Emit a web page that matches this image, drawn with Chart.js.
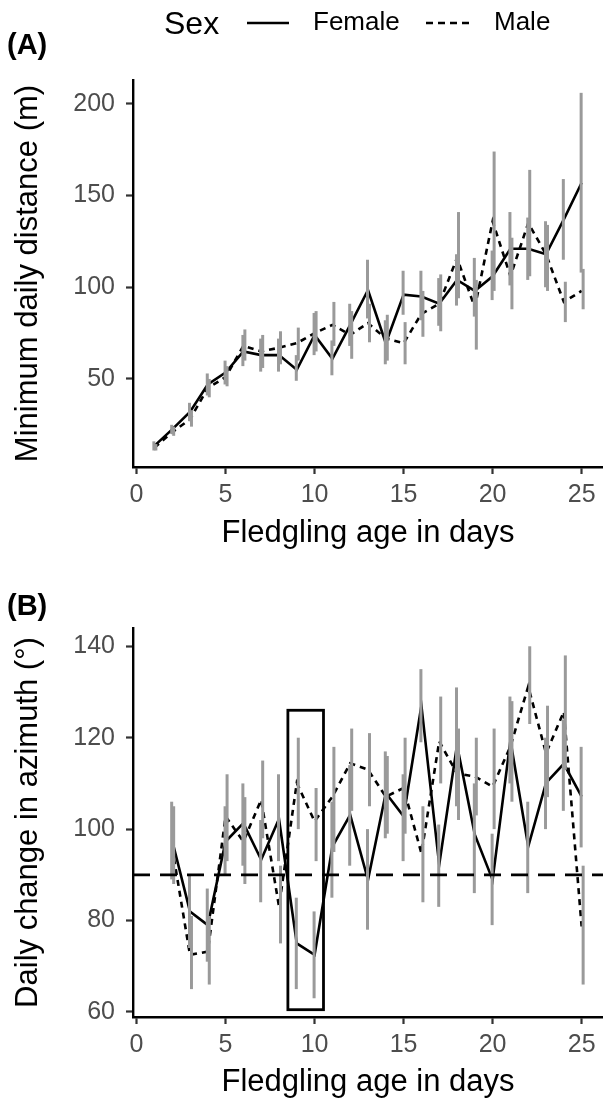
<!DOCTYPE html>
<html>
<head>
<meta charset="utf-8">
<script src="https://cdn.jsdelivr.net/npm/chart.js@4.4.1/dist/chart.umd.min.js"></script>
<style>
  html, body { margin: 0; padding: 0; background: #fff; }
  #wrap { position: relative; width: 603px; height: 1099px; }
  canvas { position: absolute; left: 0; }
</style>
</head>
<body>
<div id="wrap">
  <canvas id="chartA" width="603" height="560" style="top:0"></canvas>
  <canvas id="chartB" width="603" height="539" style="top:560px"></canvas>
</div>
<script>
// ---- panel A: minimum daily distance (m) ----
const ageA = [1, 2, 3, 4, 5, 6, 7, 8, 9, 10, 11, 12, 13, 14, 15, 16, 17, 18, 19, 20, 21, 22, 23, 24, 25];
const distFemale = [13.5, 22.5, 32, 47, 53.5, 65, 63, 63, 55, 74, 61, 79.5, 98.5, 69.5, 96, 95, 91, 104, 98, 106, 121, 121, 118, 137, 157];
const distMale = [12.5, 21, 28, 45, 51, 68, 65, 67, 69.5, 75, 79.5, 74, 80.5, 72, 69.5, 85.5, 91, 116, 89, 136, 106, 135, 118, 92, 98];
const distFemaleLow = [11, 20, 27, 41, 47, 57, 54, 54, 49, 63, 52, 68, 83, 58, 85, 82, 79, 90, 84, 93, 101, 104, 100, 115, 108];
const distFemaleHigh = [16, 25, 37, 53, 60, 74, 72, 72, 63, 86, 71, 91, 115, 82, 109, 109, 105, 118, 116, 120, 141, 138, 136, 159, 206];
const distMaleLow = [11, 19, 24, 40, 46, 60, 56, 58, 60, 65, 68, 61, 70, 60, 58, 73, 76, 94, 66, 98, 88, 106, 98, 81, 88];
const distMaleHigh = [14.5, 24, 33, 50, 57, 77, 74, 76, 78, 87, 92, 87, 91, 85, 81, 98, 107, 141, 104, 174, 127, 164, 134, 103, 110];
const yTicksA = [50, 100, 150, 200];

// ---- panel B: daily change in azimuth (deg) ----
const ageB = [2, 3, 4, 5, 6, 7, 8, 9, 10, 11, 12, 13, 14, 15, 16, 17, 18, 19, 20, 21, 22, 23, 24, 25];
const azFemale = [97.5, 82, 79, 97.3, 101.3, 93.3, 102.2, 75, 72.5, 96.2, 103.1, 88.9, 107.9, 102.8, 127, 92.2, 118.4, 98.8, 88.9, 119.4, 96.2, 110.1, 114.3, 107.1];
const azMale = [96, 72.5, 73.2, 102.8, 97.3, 106.4, 83.1, 110.1, 101.7, 107.1, 114.4, 113, 107.1, 109, 94.7, 119.2, 112.2, 111.5, 109.3, 118.1, 131.2, 116.6, 125.7, 78.7];
const azFemaleLow = [89, 74, 71, 90, 92, 84, 93, 65, 63, 85, 92, 78, 98, 93, 119, 83, 105, 86, 79, 110, 86, 100, 104, 96];
const azFemaleHigh = [106, 90, 87, 105, 110, 102, 112, 85, 82, 106, 114, 100, 117, 112, 135, 101, 131, 110, 99, 129, 106, 120, 124, 118];
const azMaleLow = [88, 65, 66, 93, 88, 98, 75, 100, 93, 95, 104, 105, 99, 99, 84, 110, 102, 103, 100, 106, 123, 107, 113, 66];
const azMaleHigh = [105, 81, 81, 112, 107, 115, 92, 120, 109, 118, 122, 121, 116, 120, 105, 129, 122, 120, 122, 128, 140, 127, 138, 92];
const yTicksB = [60, 80, 100, 120, 140];
const refAzimuth = 90;
const highlightAge = [8.5, 10.5];
const highlightAz = [60.5, 126];

const xTicks = [0, 5, 10, 15, 20, 25];
const FONT = "'Liberation Sans', Arial, Helvetica, sans-serif";

function pts(xs, ys) {
  return xs.map((x, i) => ({ x: x, y: ys[i] }));
}

// grey error bars, drawn over the lines
const errorBars = {
  id: 'errorBars',
  afterDatasetsDraw(chart) {
    const { ctx, chartArea, scales } = chart;
    ctx.save();
    ctx.beginPath();
    ctx.rect(chartArea.left, chartArea.top, chartArea.right - chartArea.left, chartArea.bottom - chartArea.top);
    ctx.clip();
    ctx.strokeStyle = '#9a9a9a';
    ctx.lineWidth = 3;
    chart.data.datasets.forEach(ds => {
      if (!ds.errLow) return;
      ds.data.forEach((p, i) => {
        const x = scales.x.getPixelForValue(p.x) + ds.errShift;
        ctx.beginPath();
        ctx.moveTo(x, scales.y.getPixelForValue(ds.errLow[i]));
        ctx.lineTo(x, scales.y.getPixelForValue(ds.errHigh[i]));
        ctx.stroke();
      });
    });
    ctx.restore();
  }
};

function panelLabel(text, y) {
  return {
    id: 'panelLabel',
    afterDraw(chart) {
      const ctx = chart.ctx;
      ctx.save();
      ctx.fillStyle = '#000';
      ctx.font = 'bold 29px ' + FONT;
      ctx.textBaseline = 'middle';
      ctx.fillText(text, 7, y);
      ctx.restore();
    }
  };
}

const sexLegend = {
  id: 'sexLegend',
  afterDraw(chart) {
    const ctx = chart.ctx;
    ctx.save();
    ctx.fillStyle = '#000';
    ctx.textBaseline = 'middle';
    ctx.font = '32px ' + FONT;
    ctx.fillText('Sex', 164, 25);
    ctx.font = '26px ' + FONT;
    ctx.fillText('Female', 313, 23);
    ctx.fillText('Male', 494, 23);
    ctx.strokeStyle = '#000';
    ctx.lineWidth = 2.6;
    ctx.beginPath();
    ctx.moveTo(247, 23); ctx.lineTo(289, 23);
    ctx.stroke();
    ctx.setLineDash([7, 5]);
    ctx.beginPath();
    ctx.moveTo(426, 23); ctx.lineTo(469, 23);
    ctx.stroke();
    ctx.restore();
  }
};

const refLineAndBox = {
  id: 'refLineAndBox',
  afterDatasetsDraw(chart) {
    const { ctx, chartArea, scales } = chart;
    ctx.save();
    const y = scales.y.getPixelForValue(refAzimuth);
    ctx.strokeStyle = '#000';
    ctx.lineWidth = 2.6;
    ctx.setLineDash([17, 10]);
    ctx.beginPath();
    ctx.moveTo(chartArea.left, y);
    ctx.lineTo(chartArea.right, y);
    ctx.stroke();
    ctx.setLineDash([]);
    const x0 = scales.x.getPixelForValue(highlightAge[0]);
    const x1 = scales.x.getPixelForValue(highlightAge[1]);
    const y0 = scales.y.getPixelForValue(highlightAz[1]);
    const y1 = scales.y.getPixelForValue(highlightAz[0]);
    ctx.lineWidth = 2.8;
    ctx.strokeRect(x0, y0, x1 - x0, y1 - y0);
    ctx.restore();
  }
};

function lineSet(label, xs, ys, lo, hi, dash, shift) {
  return {
    label: label,
    data: pts(xs, ys),
    borderColor: '#000',
    borderWidth: 2.6,
    borderDash: dash,
    pointRadius: 0,
    tension: 0,
    fill: false,
    errLow: lo,
    errHigh: hi,
    errShift: shift
  };
}

function makeOptions(cfg) {
  return {
    responsive: false,
    animation: false,
    devicePixelRatio: 1,
    layout: { padding: { top: cfg.padTop, left: 0, right: 0, bottom: 0 } },
    plugins: { legend: { display: false }, tooltip: { enabled: false } },
    scales: {
      x: {
        type: 'linear',
        min: -0.2,
        max: 26.2,
        afterFit: s => { s.height = cfg.xHeight; },
        afterBuildTicks: s => { s.ticks = xTicks.map(v => ({ value: v })); },
        grid: { drawOnChartArea: false, drawTicks: true, tickLength: 7, tickWidth: 2.2, tickColor: '#333' },
        border: { display: true, color: '#000', width: 2.4 },
        ticks: { color: '#4d4d4d', padding: 6, maxRotation: 0, font: { family: FONT, size: 25 } },
        title: {
          display: true,
          text: 'Fledgling age in days',
          color: '#000',
          font: { family: FONT, size: 31, lineHeight: 1 },
          padding: { top: 0, bottom: cfg.xTitlePad }
        }
      },
      y: {
        type: 'linear',
        min: cfg.yMin,
        max: cfg.yMax,
        afterFit: s => { s.width = 133; },
        afterBuildTicks: s => { s.ticks = cfg.yTicks.map(v => ({ value: v })); },
        grid: { drawOnChartArea: false, drawTicks: true, tickLength: 7, tickWidth: 2.2, tickColor: '#333' },
        border: { display: true, color: '#000', width: 2.4 },
        ticks: { color: '#4d4d4d', padding: 11, font: { family: FONT, size: 25 } },
        title: {
          display: true,
          text: cfg.yTitle,
          color: '#000',
          font: { family: FONT, size: 31, lineHeight: 1 },
          padding: { top: 13, bottom: 0 }
        }
      }
    }
  };
}

new Chart(document.getElementById('chartA'), {
  type: 'line',
  data: {
    datasets: [
      lineSet('Female', ageA, distFemale, distFemaleLow, distFemaleHigh, [], -0.5),
      lineSet('Male', ageA, distMale, distMaleLow, distMaleHigh, [6, 5], 1.5)
    ]
  },
  options: makeOptions({
    padTop: 80, xHeight: 93, xTitlePad: 11, yMin: 2, yMax: 213,
    yTicks: yTicksA, yTitle: 'Minimum daily distance (m)'
  }),
  plugins: [errorBars, sexLegend, panelLabel('(A)', 46)]
});

new Chart(document.getElementById('chartB'), {
  type: 'line',
  data: {
    datasets: [
      lineSet('Female', ageB, azFemale, azFemaleLow, azFemaleHigh, [], -0.5),
      lineSet('Male', ageB, azMale, azMaleLow, azMaleHigh, [6, 5], 1.5)
    ]
  },
  options: makeOptions({
    padTop: 68, xHeight: 82, xTitlePad: 1, yMin: 58.9, yMax: 144,
    yTicks: yTicksB, yTitle: 'Daily change in azimuth (°)'
  }),
  plugins: [errorBars, refLineAndBox, panelLabel('(B)', 47)]
});
</script>
</body>
</html>
